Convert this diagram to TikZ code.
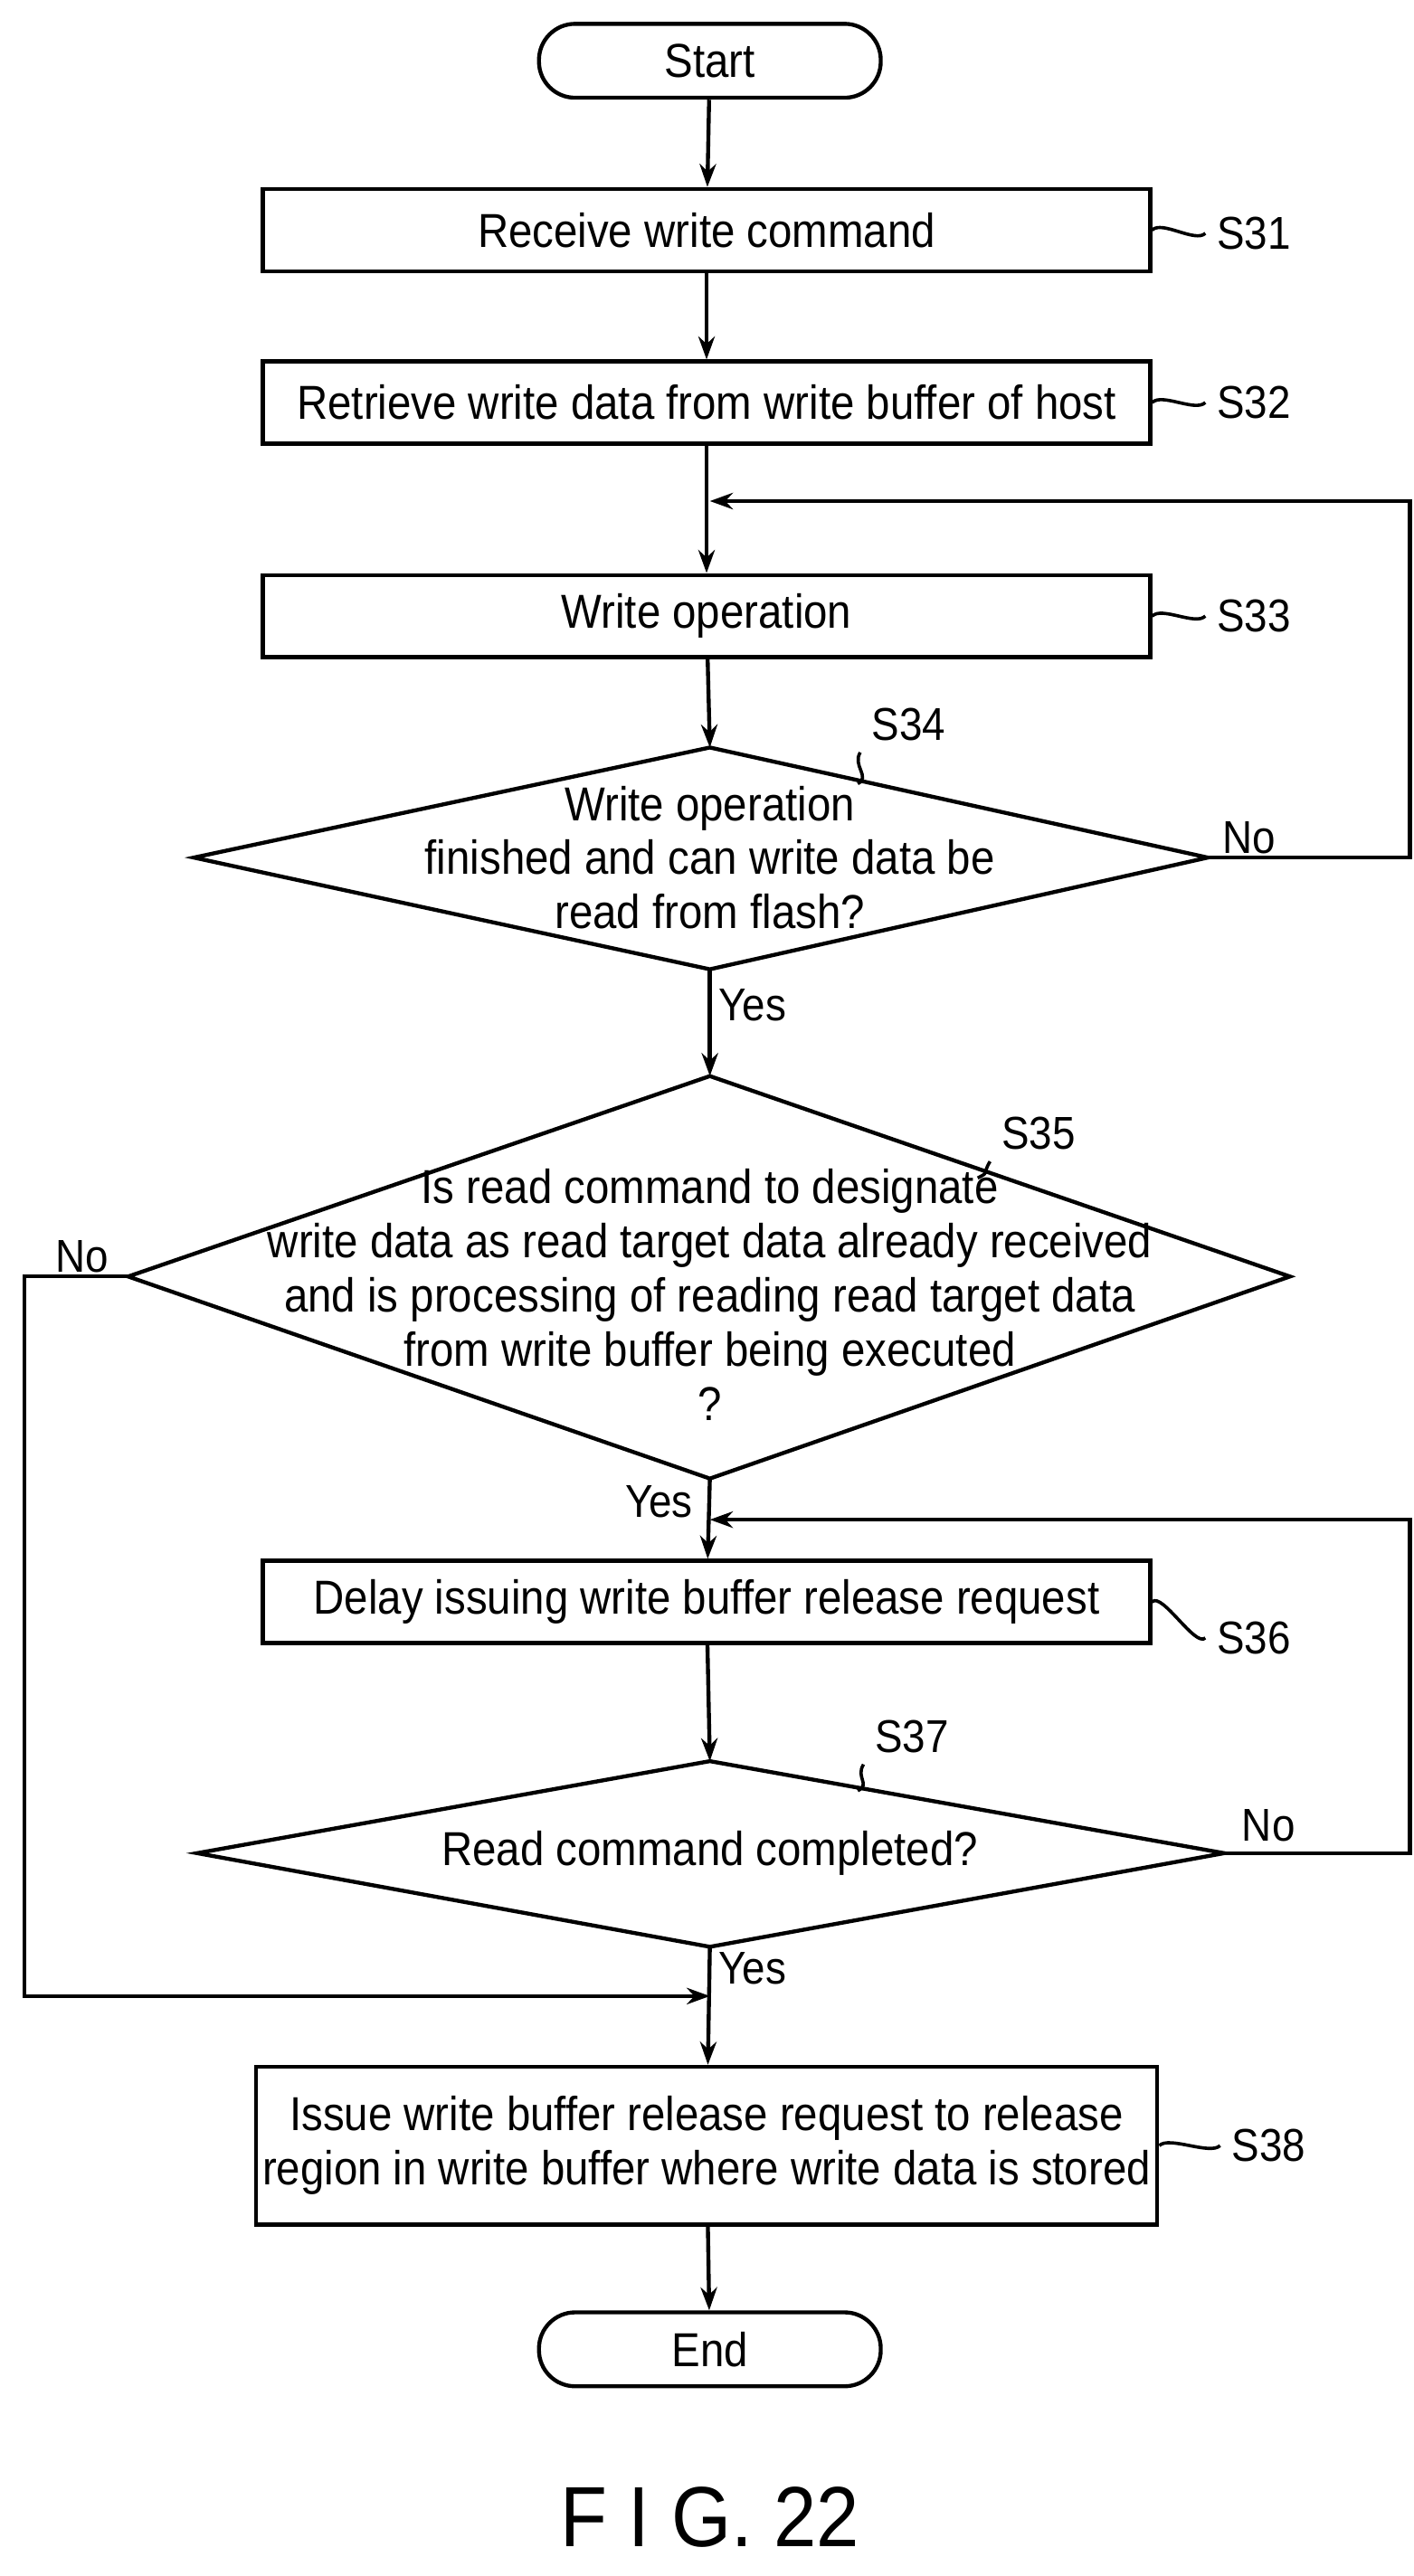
\documentclass[tikz,border=0pt]{standalone}
\usepackage{fontspec}
\setmainfont[FakeStretch=0.9]{Liberation Sans}
\usetikzlibrary{arrows.meta,positioning}
\tikzset{
  box/.style={draw,line width=1.2pt,minimum width=270pt,align=center,inner sep=2pt},
  term/.style={draw,line width=1.2pt,rounded corners=11pt,minimum width=104pt,minimum height=22.5pt},
  flow/.style={line width=1.2pt,-{Stealth[length=7pt,width=5pt]}},
  line/.style={line width=1.2pt},
  tag/.style={font=\fontsize{14}{16}\selectfont},
  wave/.style={line width=1pt}
}
\newcommand{\stepwave}[2]{%
  \draw[wave] (#1) .. controls +(6,-6) and +(-6,6) .. (#2);}
\begin{document}
\begin{tikzpicture}[x=0.5pt,y=-0.5pt,font=\fontsize{14.5}{16.5}\selectfont]
\useasboundingbox (0,0) rectangle (860,1568);
% terminals and process boxes
\node[term] (start) at (432,37) {Start};
\node[box,minimum height=25pt] (s31) at (430,140) {Receive write command};
\node[box,minimum height=25pt] (s32) at (430,245) {Retrieve write data from write buffer of host};
\node[box,minimum height=25pt] (s33) at (430,375) {Write operation};
\node[box,minimum height=25pt] (s36) at (430,975) {Delay issuing write buffer release request};
\node[box,minimum height=48pt] (s38) at (430,1306) {Issue write buffer release request to release\\region in write buffer where write data is stored};
\node[term] (end) at (432,1430) {End};
% decisions
\draw[line] (432,455) coordinate (d34t) -- (735,522) coordinate (d34r) -- (432,590) coordinate (d34b) -- (118,522) coordinate (d34l) -- cycle;
\node[align=center] (s34) at (432,522) {Write operation\\finished and can write data be\\read from flash?};
\draw[line] (432,655) coordinate (d35t) -- (785,777) coordinate (d35r) -- (432,900) coordinate (d35b) -- (78,777) coordinate (d35l) -- cycle;
\node[align=center] (s35) at (432,788) {Is read command to designate\\write data as read target data already received\\and is processing of reading read target data\\from write buffer being executed\\?};
\draw[line] (432,1072) coordinate (d37t) -- (745,1128) coordinate (d37r) -- (432,1185) coordinate (d37b) -- (120,1128) coordinate (d37l) -- cycle;
\node (s37) at (432,1128) {Read command completed?};
% step labels
\node[tag] (l31) at (763,142) {S31};
\node[tag] (l32) at (763,245) {S32};
\node[tag] (l33) at (763,375) {S33};
\node[tag] (l34) at (553,441) {S34};
\node[tag] (l35) at (632,690) {S35};
\node[tag] (l36) at (763,997) {S36};
\node[tag] (l37) at (555,1057) {S37};
\node[tag] (l38) at (772,1306) {S38};
\stepwave{s31.east}{l31.west}
\stepwave{s32.east}{l32.west}
\stepwave{s33.east}{l33.west}
\stepwave{s36.east}{l36.west}
\stepwave{s38.east}{l38.west}
\draw[wave] (l34.south west) .. controls +(-5,8) and +(8,-4) .. (522,477);
\draw[wave] (l35.south west) .. controls +(-5,8) and +(8,-4) .. (595,717);
\draw[wave] (l37.south west) .. controls +(-5,8) and +(8,-4) .. (522,1090);
% connectors
\coordinate (m33) at (432,305);
\coordinate (m36) at (432,925);
\coordinate (m38) at (432,1215);
\draw[flow] (start) -- (s31);
\draw[flow] (s31) -- (s32);
\draw[flow] (s32) -- (s33);
\draw[flow] (s33) -- (d34t);
\draw[flow] (d34b) -- (d35t);
\draw[flow] (d35b) -- (s36);
\draw[flow] (s36) -- (d37t);
\draw[flow] (d37b) -- (s38);
\draw[flow] (s38) -- (end);
\draw[flow] (d34r) -- (858,522) -- (858,305) -- (m33);
\draw[flow] (d37r) -- (858,1128) -- (858,925) -- (m36);
\draw[flow] (d35l) -- (15,777) -- (15,1215) -- (m38);
% branch labels
\node[tag] at (760,510) {No};
\node[tag] at (458,612) {Yes};
\node[tag] at (50,765) {No};
\node[tag] at (401,914) {Yes};
\node[tag] at (772,1111) {No};
\node[tag] at (458,1198) {Yes};
\node[font=\fontsize{26}{28}\selectfont] (fig) at (432,1532) {F I G. 22};
\end{tikzpicture}
\end{document}
